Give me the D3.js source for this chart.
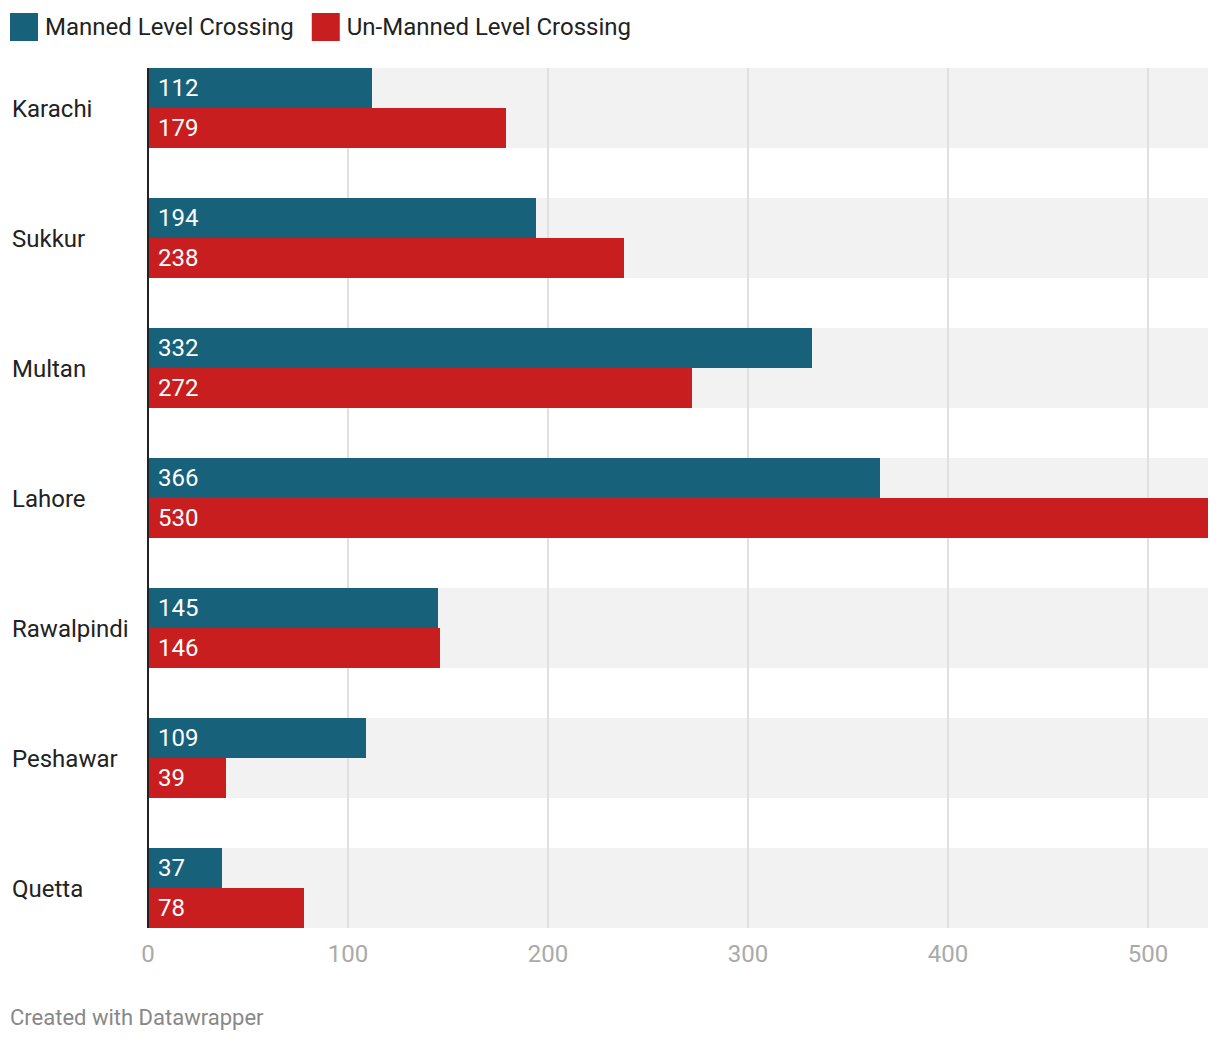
<!DOCTYPE html>
<html>
<head>
<meta charset="utf-8">
<script src="https://cdn.jsdelivr.net/npm/d3@7"></script>
<style>
  body { margin: 0; background: #fff; font-family: Roboto, "Noto Sans", sans-serif; }
</style>
</head>
<body>
<svg id="chart" width="1220" height="1042"></svg>
<script>
// ─── DATA ─────────────────────────────────────────────────────────────────────
const cities   = ["Karachi", "Sukkur", "Multan", "Lahore", "Rawalpindi", "Peshawar", "Quetta"];
const manned   = [112, 194, 332, 366, 145, 109, 37];
const unmanned = [179, 238, 272, 530, 146, 39, 78];
const seriesNames = ["Manned Level Crossing", "Un-Manned Level Crossing"];
const xTicks = [0, 100, 200, 300, 400, 500];

const COLORS = ["#17617b", "#c81e1f"];

// ─── LAYOUT ───────────────────────────────────────────────────────────────────
const svg = d3.select("#chart");
const plotLeft = 148, plotRight = 1208, plotTop = 68, plotBottom = 928;

const x = d3.scaleLinear().domain([0, 530]).range([plotLeft, plotRight]);
const y = d3.scaleBand().domain(cities).range([plotTop, plotBottom]).paddingInner(50 / 130).paddingOuter(0);
const sub = d3.scaleBand().domain([0, 1]).range([0, y.bandwidth()]);

const rows = cities.map((c, i) => ({ city: c, values: [manned[i], unmanned[i]] }));

// background bands
svg.append("g").selectAll("rect").data(cities).join("rect")
  .attr("x", plotLeft).attr("y", d => y(d))
  .attr("width", plotRight - plotLeft).attr("height", y.bandwidth())
  .attr("fill", "#f2f2f2");

// gridlines
svg.append("g").selectAll("line").data(xTicks.filter(t => t > 0)).join("line")
  .attr("x1", d => x(d)).attr("x2", d => x(d))
  .attr("y1", plotTop).attr("y2", plotBottom)
  .attr("stroke", "#e0e0e0").attr("stroke-width", 2);

// bars
const group = svg.append("g").selectAll("g").data(rows).join("g")
  .attr("transform", d => `translate(0,${y(d.city)})`);

group.selectAll("rect").data(d => d.values).join("rect")
  .attr("x", x(0)).attr("y", (d, i) => sub(i))
  .attr("width", d => x(d) - x(0)).attr("height", sub.bandwidth())
  .attr("fill", (d, i) => COLORS[i]);

group.selectAll("text").data(d => d.values).join("text")
  .attr("x", x(0) + 10).attr("y", (d, i) => sub(i) + sub.bandwidth() / 2 - 1)
  .attr("dy", "0.36em")
  .attr("fill", "#fff").style("font-size", "24px")
  .text(d => d);

// city labels
svg.append("g").selectAll("text").data(cities).join("text")
  .attr("x", 12).attr("y", d => y(d) + y.bandwidth() / 2)
  .attr("dy", "0.36em")
  .attr("fill", "#222").style("font-size", "24px")
  .text(d => d);

// baseline
svg.append("line")
  .attr("x1", plotLeft).attr("x2", plotLeft).attr("y1", plotTop).attr("y2", plotBottom)
  .attr("stroke", "#222").attr("stroke-width", 2);

// x tick labels
svg.append("g").selectAll("text").data(xTicks).join("text")
  .attr("x", d => x(d)).attr("y", 953).attr("dy", "0.36em")
  .attr("text-anchor", "middle")
  .attr("fill", "#aaa").style("font-size", "24px")
  .text(d => d);

// legend
const legend = svg.append("g");
let lx = 10;
seriesNames.forEach((name, i) => {
  legend.append("rect").attr("x", lx).attr("y", 13).attr("width", 28).attr("height", 28)
    .attr("fill", COLORS[i]);
  const t = legend.append("text").attr("x", lx + 35).attr("y", 26).attr("dy", "0.36em")
    .attr("fill", "#222").style("font-size", "24px").text(name);
  lx += 35 + t.node().getComputedTextLength() + 18;
});

// footer
svg.append("text").attr("x", 10).attr("y", 1017).attr("dy", "0.36em")
  .attr("fill", "#888").style("font-size", "22px")
  .text("Created with Datawrapper");
</script>
</body>
</html>
